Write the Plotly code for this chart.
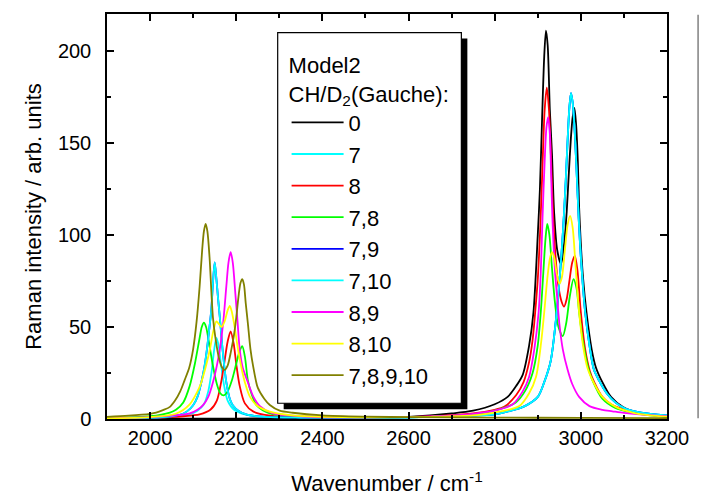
import plotly.graph_objects as go

# Raman spectra, Model2, CH/D2 (gauche) deuteration patterns
# values (wavenumber / cm-1, intensity / arb. units)

x_0 = [1900, 2100, 2300, 2500, 2600, 2700, 2750, 2800, 2830, 2850, 2865, 2880, 2890, 2900, 2905, 2910, 2915, 2919,
       2923, 2928, 2933, 2938, 2945, 2954, 2962, 2967, 2972, 2977, 2981, 2985, 2989, 2993, 2996, 3000, 3005, 3013,
       3025, 3035, 3050, 3070, 3097, 3130, 3160, 3200]
y_0 = [0.2, 0.2, 0.3, 0.6, 1.2, 3.0, 4.5, 8, 12, 18, 24, 40, 58, 100, 125, 163, 197, 211,
       203, 168, 144, 112, 92, 84, 97, 112, 133, 153, 164, 169, 160, 140, 115, 95, 77, 58,
       38, 28, 20, 12, 6.6, 3.5, 2.2, 1.3]

# CD-stretch part of the two cyan curves
x_7_cd = [1900, 2000, 2050, 2090, 2110, 2125, 2135, 2143, 2149, 2154, 2159, 2165, 2172, 2180, 2195, 2220, 2260,
          2350, 2500, 2600, 2700]
y_7_cd = [0.3, 0.6, 1.2, 2.5, 4.5, 8, 15, 26, 38, 44, 40, 29, 18, 10, 5, 2.5, 1.3,
          0.8, 0.7, 0.9, 1.5]
x_710_cd = [1900, 2000, 2050, 2069, 2085, 2100, 2110, 2119, 2126, 2131, 2137, 2142, 2146, 2150, 2154, 2158, 2162,
            2169, 2177, 2185, 2192, 2205, 2223, 2260, 2350, 2500, 2600, 2700]
y_710_cd = [0.3, 0.7, 1.5, 2.2, 4, 7.5, 12, 20, 28, 36, 48, 59, 74, 85, 76, 65, 55,
            36, 20, 11, 7.5, 4.5, 2.5, 1.3, 0.8, 0.7, 0.9, 1.5]
# CH-stretch part, the same for both cyan curves
x_cyan_ch = [2800, 2842, 2870, 2900, 2915, 2930, 2944, 2952, 2958, 2964, 2969, 2973, 2977, 2981, 2986, 2991, 2995,
             3000, 3010, 3020, 3030, 3042, 3060, 3080, 3104, 3140, 3200]
y_cyan_ch = [2.5, 4.8, 7, 12, 20, 31.5, 58, 80, 100, 125, 150, 168, 177, 172, 155, 130, 109,
             88, 58, 40, 27, 21, 14, 9, 5.5, 3.5, 2]

x_8 = [1900, 2000, 2077, 2115, 2140, 2155, 2165, 2172, 2180, 2187, 2194, 2200, 2208, 2220, 2240, 2280, 2350, 2450,
       2550, 2650, 2750, 2800, 2822, 2850, 2867, 2880, 2888, 2894, 2900, 2906, 2911, 2916, 2921, 2926, 2931, 2936,
       2942, 2948, 2955, 2961, 2967, 2974, 2980, 2986, 2992, 3000, 3010, 3021, 3031, 3050, 3070, 3089, 3120, 3160,
       3200]
y_8 = [0.4, 0.7, 1.5, 2.5, 5, 10, 20, 30, 42, 47.6, 41, 30, 18, 8.5, 4, 1.8, 1.0, 0.8,
       0.9, 1.4, 3.0, 5, 6.6, 13, 20, 31, 43, 58, 76, 105, 138, 168, 180, 168, 140, 109,
       86, 72, 64, 61, 65, 76, 85, 88.6, 81, 58, 38, 26, 20, 12, 8, 6, 4, 2.5,
       1.5]

x_78 = [1900, 2000, 2046, 2060, 2077, 2092, 2104, 2115, 2120, 2125, 2130, 2135, 2145, 2155, 2163, 2171, 2180, 2190,
        2200, 2208, 2214, 2220, 2227, 2235, 2247, 2278, 2330, 2450, 2550, 2650, 2750, 2800, 2849, 2870, 2888, 2900,
        2907, 2913, 2918, 2922, 2927, 2933, 2940, 2948, 2958, 2966, 2974, 2983, 2990, 2996, 3005, 3018, 3027, 3050,
        3080, 3120, 3160, 3200]
y_78 = [0.5, 1.5, 3.5, 5, 9, 18, 30, 44, 50, 52.4, 50, 44, 30, 19, 14, 12.8, 15, 21,
        30, 37, 39.6, 34, 21, 14, 7.5, 3, 1.5, 0.9, 0.9, 1.2, 2.5, 4.5, 9, 15, 25, 40,
        58, 80, 98, 106, 100, 82, 63, 50, 45, 52, 66, 76, 71, 58, 42, 27, 21, 11,
        6, 3.5, 2, 1.3]

x_89 = [1900, 2000, 2050, 2092, 2110, 2123, 2135, 2146, 2155, 2162, 2170, 2177, 2182, 2187, 2192, 2198, 2203, 2208,
        2215, 2227, 2240, 2255, 2285, 2350, 2450, 2550, 2650, 2750, 2800, 2842, 2865, 2880, 2892, 2902, 2907, 2911,
        2916, 2920, 2924, 2928, 2931, 2934, 2940, 2945, 2950, 2958, 2969, 2980, 2996, 3020, 3050, 3073, 3100, 3150,
        3200]
y_89 = [0.5, 1.0, 1.8, 3, 5, 7.5, 12, 20, 29, 38, 53, 72, 85, 90.7, 85, 68, 53, 38,
        28, 20, 12, 7, 3, 1.5, 0.9, 1.0, 1.4, 2.8, 4.5, 8, 15, 23, 38, 58, 80, 109,
        140, 158, 164, 155, 133, 109, 80, 66, 52, 38, 27, 19, 12, 7, 5, 4.2, 3.3, 2.2,
        1.5]

x_810 = [1900, 2000, 2061, 2092, 2110, 2119, 2130, 2139, 2147, 2154, 2160, 2166, 2173, 2180, 2185, 2190, 2197, 2204,
         2212, 2220, 2232, 2247, 2278, 2330, 2450, 2550, 2650, 2750, 2800, 2857, 2880, 2896, 2908, 2915, 2922, 2928,
         2933, 2938, 2944, 2950, 2956, 2963, 2969, 2975, 2981, 2988, 2996, 3005, 3015, 3025, 3050, 3081, 3120, 3160,
         3200]
y_810 = [0.4, 1.0, 3, 8, 15, 20, 29, 38, 48, 53, 51.5, 50, 53, 59, 61.5, 58, 49, 38,
         28, 20, 12, 7.5, 4, 2, 1.0, 0.9, 1.2, 2, 3.5, 7, 14, 23, 42, 58, 76, 87,
         90.7, 88, 79, 73.4, 77, 92, 105, 110.3, 104, 82, 58, 40, 28, 22, 12, 6.6, 3.5, 2,
         1.3]

x_7810 = [1900, 1950, 2000, 2014, 2030, 2046, 2058, 2070, 2080, 2091, 2100, 2108, 2115, 2121, 2125, 2129, 2133, 2138,
          2146, 2153, 2160, 2167, 2173, 2180, 2188, 2195, 2200, 2206, 2210, 2214, 2218, 2222, 2227, 2233, 2239, 2250,
          2265, 2278, 2301, 2331, 2400, 2500, 2600, 2800, 3000, 3200]
y_7810 = [1.2, 1.8, 2.8, 3.4, 4.8, 6.6, 10, 15, 21, 28, 38, 53, 72, 92, 102, 106, 102, 88,
          55, 42, 33, 28, 26.7, 29, 37, 46, 55, 68, 74, 76, 73, 63, 52, 38, 29, 17,
          11, 7.6, 4.5, 3.4, 2, 1.3, 1.0, 0.8, 0.6, 0.5]

names = ['0', '7', '8', '7,8', '7,9', '7,10', '8,9', '8,10', '7,8,9,10']
colors = ['#000000', '#00FFFF', '#FF0000', '#00FF00', '#0000FF', '#00FFFF', '#FF00FF', '#FFFF00', '#808000']

x_7 = x_7_cd + x_cyan_ch
y_7 = y_7_cd + y_cyan_ch
x_710 = x_710_cd + x_cyan_ch
y_710 = y_710_cd + y_cyan_ch
# the 7,9 curve is hidden under the 7,10 one in the picture
x_79, y_79 = x_710, y_710

xs = [x_0, x_7, x_8, x_78, x_79, x_710, x_89, x_810, x_7810]
ys = [y_0, y_7, y_8, y_78, y_79, y_710, y_89, y_810, y_7810]

font = 'Arial, Liberation Sans, sans-serif'

fig = go.Figure()
for n, c, xx, yy in zip(names, colors, xs, ys):
    fig.add_trace(go.Scatter(x=xx, y=yy, name=n, mode='lines',
                             line=dict(color=c, width=1.8, shape='spline', smoothing=0.8)))

axis = dict(showgrid=False, zeroline=False, showline=True, linecolor='black', linewidth=1.5,
            mirror='allticks', ticks='inside', ticklen=7, tickwidth=1.5, tickcolor='black',
            tickfont=dict(family=font, size=20, color='black'))

fig.update_layout(
    width=701, height=504,
    margin=dict(l=107, r=33, t=13, b=80),
    plot_bgcolor='white', paper_bgcolor='white',
    font=dict(family=font, color='black'),
    xaxis=dict(axis, range=[1900, 3200], dtick=200, tick0=2000,
               minor=dict(ticks='inside', ticklen=4, dtick=100, tickcolor='black', tickwidth=1.5),
               title=dict(text='Wavenumber / cm<sup>-1</sup>', font=dict(family=font, size=22), standoff=28)),
    yaxis=dict(axis, range=[0, 220], dtick=50, ticklabelstandoff=10,
               minor=dict(ticks='inside', ticklen=4, dtick=25, tickcolor='black', tickwidth=1.5),
               title=dict(text='Raman intensity / arb. units', font=dict(family=font, size=22), standoff=10)),
    legend=dict(x=0.3207, y=0.925, xanchor='left', yanchor='top', itemwidth=52,
                bgcolor='rgba(0,0,0,0)', borderwidth=0,
                font=dict(family=font, size=22, color='black'),
                title=dict(text='Model2<br>CH/D<sub>2</sub>(Gauche):', font=dict(family=font, size=22), side='top')),
    showlegend=True,
)

# legend frame with its drop shadow, and the thin grey line at the right border
fig.add_shape(type='rect', xref='paper', yref='paper', x0=0.3155, x1=0.6435, y0=0.0243, y1=0.9392,
              fillcolor='black', line=dict(width=0), layer='above')
fig.add_shape(type='rect', xref='paper', yref='paper', x0=0.3048, x1=0.6328, y0=0.0389, y1=0.9538,
              fillcolor='white', line=dict(color='black', width=1.2), layer='above')
fig.add_shape(type='line', xref='paper', yref='paper', x0=1.0555, x1=1.0555, y0=0.002, y1=0.998,
              line=dict(color='#808080', width=1.5))

fig.write_html("out.html", config={'displayModeBar': False},
               post_script="document.body.style.margin='0';")
